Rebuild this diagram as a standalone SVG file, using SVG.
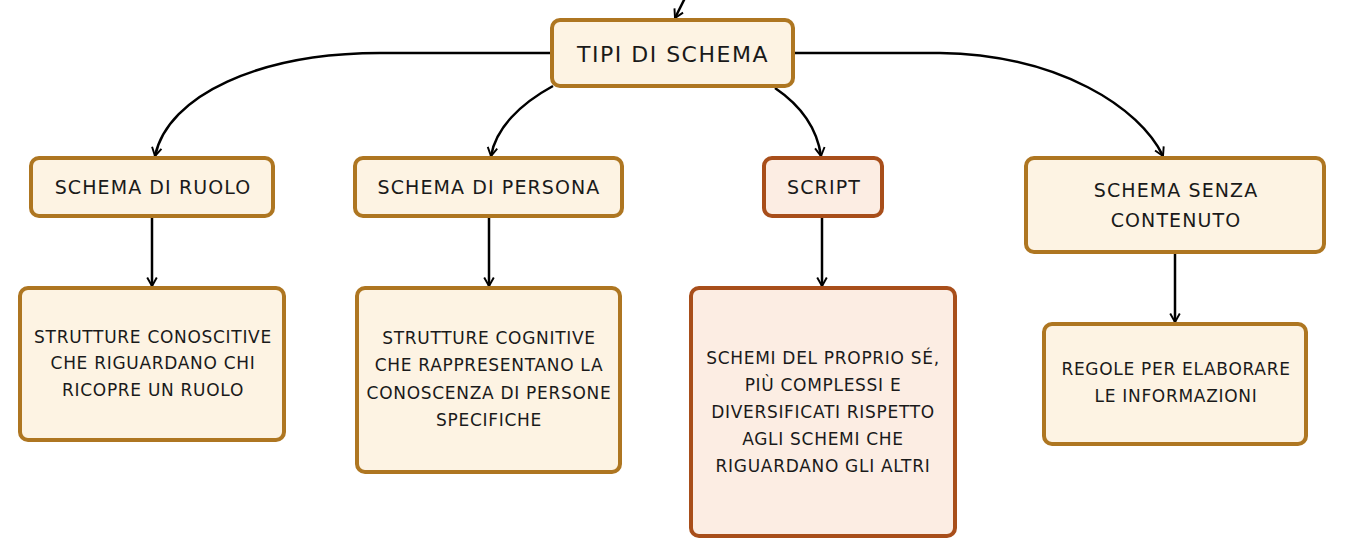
<svg xmlns="http://www.w3.org/2000/svg" width="1345" height="558" viewBox="0 0 1345 558">
<style>
.n rect{fill:#FDF3E3;stroke:#AE7621;stroke-width:4}
.s rect{fill:#FCEDE3;stroke:#A84E1A;stroke-width:4}
text{font-family:"DejaVu Sans","Liberation Sans",sans-serif;fill:#1a1a1a;text-anchor:middle}
.t0{font-size:22px;letter-spacing:1.5px}
.t1{font-size:19px;letter-spacing:1.1px}
.t2{font-size:17px;letter-spacing:0.7px}
.c path{fill:none;stroke:#000;stroke-width:2.5}
</style>
<defs>
<marker id="ar" markerUnits="userSpaceOnUse" markerWidth="12" markerHeight="12" refX="8" refY="5" orient="auto" viewBox="0 0 10 10">
<path d="M1,1 L8,5 L1,9" fill="none" stroke="#000" stroke-width="1.6"/>
</marker>
</defs>
<g class="c" id="connectors">
<path d="M686,-4 L675,18" marker-end="url(#ar)"/>
<path d="M552,53 L380,53 C260,53 168,95 155,156" marker-end="url(#ar)"/>
<path d="M553,86 C520,104 496,128 491,156" marker-end="url(#ar)"/>
<path d="M775,88 C800,105 817,128 821,156" marker-end="url(#ar)"/>
<path d="M793,53 L940,53 C1060,55 1140,108 1163,156" marker-end="url(#ar)"/>
<path d="M152,218 L152,286" marker-end="url(#ar)"/>
<path d="M489,218 L489,286" marker-end="url(#ar)"/>
<path d="M822,218 L822,286" marker-end="url(#ar)"/>
<path d="M1175,253 L1175,322" marker-end="url(#ar)"/>
</g>
<g id="tipi" class="n"><rect x="552" y="20" width="241" height="66" rx="8"/><text class="t0" x="673" y="62">TIPI DI SCHEMA</text></g>
<g id="ruolo" class="n"><rect x="31" y="158" width="242" height="58" rx="8"/><text class="t1" x="153" y="194">SCHEMA DI RUOLO</text></g>
<g id="persona" class="n"><rect x="355" y="158" width="267" height="58" rx="8"/><text class="t1" x="489" y="194">SCHEMA DI PERSONA</text></g>
<g id="script" class="s"><rect x="764" y="158" width="118" height="58" rx="8"/><text class="t1" x="824" y="194">SCRIPT</text></g>
<g id="senza" class="n"><rect x="1026" y="158" width="298" height="94" rx="8"/><text class="t1" x="1176" y="197">SCHEMA SENZA</text><text class="t1" x="1176" y="227">CONTENUTO</text></g>
<g id="ruolo-desc" class="n"><rect x="20" y="288" width="264" height="152" rx="8"/><text class="t2" x="153" y="343">STRUTTURE CONOSCITIVE</text><text class="t2" x="153" y="369">CHE RIGUARDANO CHI</text><text class="t2" x="153" y="396">RICOPRE UN RUOLO</text></g>
<g id="persona-desc" class="n"><rect x="357" y="288" width="263" height="184" rx="8"/><text class="t2" x="489" y="344">STRUTTURE COGNITIVE</text><text class="t2" x="489" y="371">CHE RAPPRESENTANO LA</text><text class="t2" x="489" y="399">CONOSCENZA DI PERSONE</text><text class="t2" x="489" y="426">SPECIFICHE</text></g>
<g id="script-desc" class="s"><rect x="691" y="288" width="264" height="248" rx="8"/><text class="t2" x="823" y="364">SCHEMI DEL PROPRIO SÉ,</text><text class="t2" x="823" y="391">PIÙ COMPLESSI E</text><text class="t2" x="823" y="418">DIVERSIFICATI RISPETTO</text><text class="t2" x="823" y="445">AGLI SCHEMI CHE</text><text class="t2" x="823" y="472">RIGUARDANO GLI ALTRI</text></g>
<g id="senza-desc" class="n"><rect x="1044" y="324" width="262" height="120" rx="8"/><text class="t2" x="1176" y="375">REGOLE PER ELABORARE</text><text class="t2" x="1176" y="402">LE INFORMAZIONI</text></g>
</svg>
